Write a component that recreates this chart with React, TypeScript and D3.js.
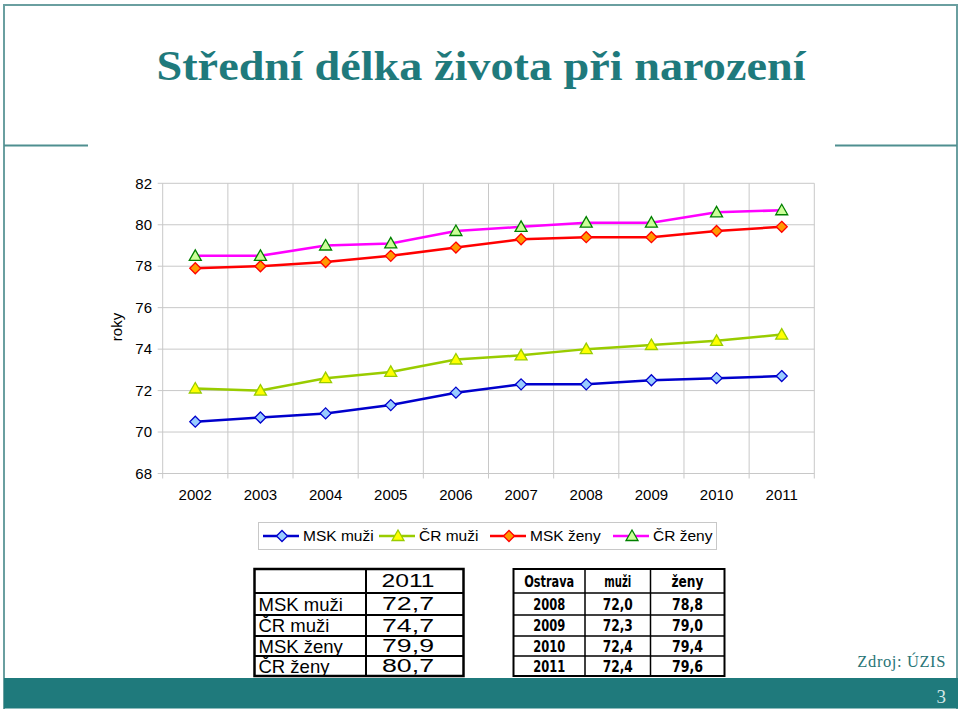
import React, { useEffect, useRef } from "react";
import * as d3 from "d3";

// chart data
const years = ["2002", "2003", "2004", "2005", "2006", "2007", "2008", "2009", "2010", "2011"];
const mskMuzi = [70.5, 70.7, 70.9, 71.3, 71.9, 72.3, 72.3, 72.5, 72.6, 72.7];
const crMuzi = [72.1, 72.0, 72.6, 72.9, 73.5, 73.7, 74.0, 74.2, 74.4, 74.7];
const mskZeny = [77.9, 78.0, 78.2, 78.5, 78.9, 79.3, 79.4, 79.4, 79.7, 79.9];
const crZeny = [78.5, 78.5, 79.0, 79.1, 79.7, 79.9, 80.1, 80.1, 80.6, 80.7];
const yTicks = [68, 70, 72, 74, 76, 78, 80, 82];

// tables
const table1Header = "2011";
const table1Labels = ["MSK muži", "ČR muži", "MSK ženy", "ČR ženy"];
const table1Values = ["72,7", "74,7", "79,9", "80,7"];
const table2Header = ["Ostrava", "muži", "ženy"];
const table2Years = ["2008", "2009", "2010", "2011"];
const table2Muzi = ["72,0", "72,3", "72,4", "72,4"];
const table2Zeny = ["78,8", "79,0", "79,4", "79,6"];

const TEAL = "#1f7a7c";

const series = [
  { name: "MSK muži", values: mskMuzi, line: "#0000cc", fill: "#99ccff", stroke: "#0000cc", shape: "diamond" },
  { name: "ČR muži", values: crMuzi, line: "#99cc00", fill: "#ffff00", stroke: "#99cc00", shape: "triangle" },
  { name: "MSK ženy", values: mskZeny, line: "#ff0000", fill: "#ff9900", stroke: "#ff0000", shape: "diamond" },
  { name: "ČR ženy", values: crZeny, line: "#ff00ff", fill: "#ccff99", stroke: "#008000", shape: "triangle" },
];

const markerPath = (shape: string) =>
  shape === "diamond" ? "M0,-5.5L5.5,0L0,5.5L-5.5,0Z" : "M0,-6L6,4.5L-6,4.5Z";

const App = () => {
  const svgRef = useRef<SVGSVGElement>(null);

  useEffect(() => {
    const svg = d3.select(svgRef.current);
    svg.selectAll("*").remove();

    const sans = "'Liberation Sans', Arial, sans-serif";
    const narrow = "'Liberation Sans Narrow', 'DejaVu Sans Condensed', sans-serif";
    const serif = "'Liberation Serif', 'DejaVu Serif', serif";

    // slide frame
    const frame = svg.append("g").attr("stroke", "#6a9fa0").attr("fill", "none").attr("stroke-width", 2);
    frame.append("line").attr("x1", 4).attr("x2", 957).attr("y1", 5).attr("y2", 5);
    frame.append("line").attr("x1", 4).attr("x2", 4).attr("y1", 4).attr("y2", 709);
    frame.append("line").attr("x1", 957).attr("x2", 957).attr("y1", 4).attr("y2", 709);
    frame.append("line").attr("x1", 4).attr("x2", 88).attr("y1", 145.5).attr("y2", 145.5).attr("stroke", "#4f8f90");
    frame.append("line").attr("x1", 835).attr("x2", 957).attr("y1", 145.5).attr("y2", 145.5).attr("stroke", "#4f8f90");

    svg.append("rect").attr("x", 4).attr("y", 678).attr("width", 954).attr("height", 30.5).attr("fill", TEAL);
    svg.append("text").attr("x", 946).attr("y", 703).attr("text-anchor", "end")
      .attr("font-family", serif).attr("font-size", 19).attr("fill", "#d6e8e8").text("3");

    svg.append("text").attr("x", 481).attr("y", 80).attr("text-anchor", "middle")
      .attr("font-family", serif).attr("font-weight", "bold").attr("font-size", 42)
      .attr("textLength", 649).attr("lengthAdjust", "spacingAndGlyphs")
      .attr("fill", TEAL).text("Střední délka života při narození");

    svg.append("text").attr("x", 946).attr("y", 667).attr("text-anchor", "end")
      .attr("font-family", serif).attr("font-size", 16.5).attr("fill", "#2a7577")
      .attr("letter-spacing", 0.6).text("Zdroj: ÚZIS");

    // chart
    const x = d3.scaleBand().domain(years).range([162.7, 814.3]);
    const y = d3.scaleLinear().domain([68, 82]).range([473.5, 183.3]);
    const [x0, x1] = x.range();

    const grid = svg.append("g").attr("stroke", "#c8c8c8").attr("stroke-width", 1);
    yTicks.forEach((t) => {
      grid.append("line").attr("x1", x0 - 5).attr("x2", x1).attr("y1", y(t)).attr("y2", y(t));
    });
    years.forEach((yr, i) => {
      const xv = x(yr)!;
      if (i > 0) grid.append("line").attr("x1", xv).attr("x2", xv).attr("y1", y(82)).attr("y2", y(68) + 5);
    });
    grid.append("line").attr("x1", x0).attr("x2", x0).attr("y1", y(82)).attr("y2", y(68) + 5);
    grid.append("line").attr("x1", x1).attr("x2", x1).attr("y1", y(82)).attr("y2", y(68) + 5);

    svg.append("g").selectAll("text").data(yTicks).enter().append("text")
      .attr("x", 152).attr("y", (d) => y(d)).attr("dy", "0.35em").attr("text-anchor", "end")
      .attr("font-family", sans).attr("font-size", 15).text((d) => d);

    svg.append("g").selectAll("text").data(years).enter().append("text")
      .attr("x", (d) => x(d)! + x.bandwidth() / 2).attr("y", 495).attr("dy", "0.35em")
      .attr("text-anchor", "middle").attr("font-family", sans).attr("font-size", 15).text((d) => d);

    svg.append("text").attr("transform", `translate(122,327) rotate(-90)`).attr("text-anchor", "middle")
      .attr("font-family", sans).attr("font-size", 15).text("roky");

    const line = d3.line<number>()
      .x((_, i) => x(years[i])! + x.bandwidth() / 2)
      .y((d) => y(d));

    series.forEach((s) => {
      svg.append("path").attr("d", line(s.values)).attr("fill", "none")
        .attr("stroke", s.line).attr("stroke-width", 2.5);
    });
    series.forEach((s) => {
      svg.append("g").selectAll("path").data(s.values).enter().append("path")
        .attr("d", markerPath(s.shape))
        .attr("transform", (d, i) => `translate(${x(years[i])! + x.bandwidth() / 2},${y(d)})`)
        .attr("fill", s.fill).attr("stroke", s.stroke).attr("stroke-width", 1.3);
    });

    // legend
    const legend = svg.append("g");
    legend.append("rect").attr("x", 258.5).attr("y", 522.5).attr("width", 458).attr("height", 27)
      .attr("fill", "white").attr("stroke", "#c8c8c8");
    const legendX = [263, 379, 490, 613];
    series.forEach((s, i) => {
      const lx = legendX[i];
      legend.append("line").attr("x1", lx).attr("x2", lx + 36).attr("y1", 536).attr("y2", 536)
        .attr("stroke", s.line).attr("stroke-width", 2.5);
      legend.append("path").attr("d", markerPath(s.shape)).attr("transform", `translate(${lx + 19},536)`)
        .attr("fill", s.fill).attr("stroke", s.stroke).attr("stroke-width", 1.3);
      legend.append("text").attr("x", lx + 40).attr("y", 536).attr("dy", "0.35em")
        .attr("font-family", sans).attr("font-size", 15.5).text(s.name);
    });

    // tables
    const rows = [569, 593, 615, 636, 656, 676];
    const rowMid = (i: number) => (rows[i] + rows[i + 1]) / 2;

    const t1 = svg.append("g");
    t1.append("rect").attr("x", 254.5).attr("y", rows[0]).attr("width", 209).attr("height", rows[5] - rows[0])
      .attr("fill", "white").attr("stroke", "black").attr("stroke-width", 2.5);
    t1.append("line").attr("x1", 366).attr("x2", 366).attr("y1", rows[0]).attr("y2", rows[5])
      .attr("stroke", "black").attr("stroke-width", 2);
    rows.slice(1, 5).forEach((r) => {
      t1.append("line").attr("x1", 254.5).attr("x2", 463.5).attr("y1", r).attr("y2", r)
        .attr("stroke", "black").attr("stroke-width", 2);
    });
    t1.append("text").attr("x", 408).attr("y", rowMid(0)).attr("dy", "0.36em").attr("text-anchor", "middle")
      .attr("font-family", sans).attr("font-size", 18).attr("textLength", 53).attr("lengthAdjust", "spacingAndGlyphs")
      .text(table1Header);
    table1Labels.forEach((l, i) => {
      t1.append("text").attr("x", 258.5).attr("y", rowMid(i + 1)).attr("dy", "0.36em")
        .attr("font-family", sans).attr("font-size", 18.5).text(l);
      t1.append("text").attr("x", 408).attr("y", rowMid(i + 1)).attr("dy", "0.36em").attr("text-anchor", "middle")
        .attr("font-family", sans).attr("font-size", 18).attr("textLength", 52).attr("lengthAdjust", "spacingAndGlyphs")
        .text(table1Values[i]);
    });

    const t2 = svg.append("g");
    const cols = [513.5, 585, 650.5, 724.5];
    t2.append("rect").attr("x", cols[0]).attr("y", rows[0]).attr("width", cols[3] - cols[0]).attr("height", rows[5] - rows[0])
      .attr("fill", "white").attr("stroke", "black").attr("stroke-width", 2);
    [cols[1], cols[2]].forEach((c) => {
      t2.append("line").attr("x1", c).attr("x2", c).attr("y1", rows[0]).attr("y2", rows[5])
        .attr("stroke", "black").attr("stroke-width", 1.5);
    });
    rows.slice(1, 5).forEach((r) => {
      t2.append("line").attr("x1", cols[0]).attr("x2", cols[3]).attr("y1", r).attr("y2", r)
        .attr("stroke", "black").attr("stroke-width", 1.5);
    });
    const colMid = (i: number) => (cols[i] + cols[i + 1]) / 2;
    const cell = (txt: string, ci: number, ri: number, w: number) =>
      t2.append("text").attr("x", colMid(ci)).attr("y", rowMid(ri)).attr("dy", "0.36em").attr("text-anchor", "middle")
        .attr("font-family", narrow).attr("font-weight", "bold").attr("font-size", 16)
        .attr("textLength", w).attr("lengthAdjust", "spacingAndGlyphs").text(txt);
    cell(table2Header[0], 0, 0, 50);
    cell(table2Header[1], 1, 0, 27);
    cell(table2Header[2], 2, 0, 32);
    table2Years.forEach((yr, i) => {
      cell(yr, 0, i + 1, 32);
      cell(table2Muzi[i], 1, i + 1, 30);
      cell(table2Zeny[i], 2, i + 1, 31);
    });
  }, []);

  return (
    <div style={{ position: "absolute", left: 0, top: 0 }}>
      <svg ref={svgRef} width={960} height={711}></svg>
    </div>
  );
};

export default App;
